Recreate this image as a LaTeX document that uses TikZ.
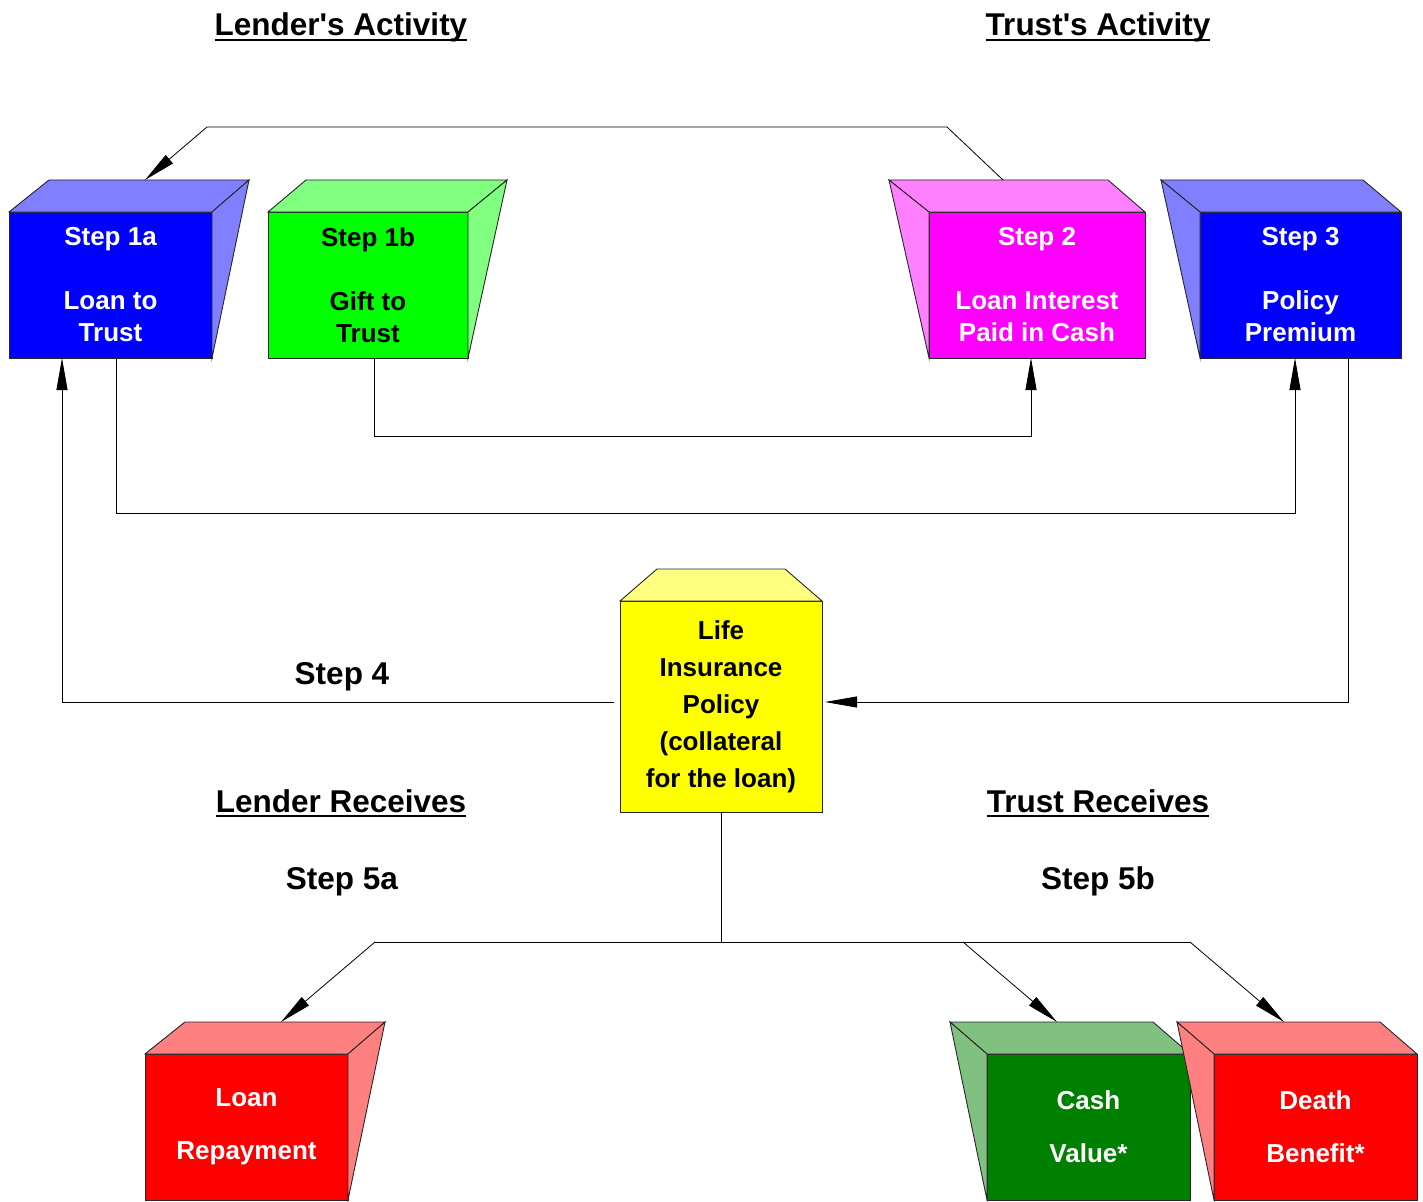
\documentclass[tikz,border=0pt]{standalone}
\usepackage{fontspec}
\setmainfont{Liberation Sans}[Ligatures=TeXOff]
\usetikzlibrary{arrows.meta}
\definecolor{blueF}{RGB}{0,0,255}
\definecolor{blueL}{RGB}{128,128,255}
\definecolor{greenF}{RGB}{0,255,0}
\definecolor{greenL}{RGB}{128,255,128}
\definecolor{magF}{RGB}{255,0,255}
\definecolor{magL}{RGB}{255,128,255}
\definecolor{yelF}{RGB}{255,255,0}
\definecolor{yelL}{RGB}{255,255,128}
\definecolor{redF}{RGB}{255,0,0}
\definecolor{redL}{RGB}{255,128,128}
\definecolor{dgreenF}{RGB}{0,128,0}
\definecolor{dgreenL}{RGB}{128,192,128}
\begin{document}
\begin{tikzpicture}[x=1pt,y=-1pt,
  edge/.style={draw=black!85, line width=0.9pt, line join=miter},
  frontbox/.style={edge, inner sep=0pt, outer sep=0pt, align=center, font=\bfseries},
  heading/.style={inner sep=0pt, anchor=base, font=\fontsize{31.5}{36}\selectfont\bfseries},
  uline/.style={line width=2.4pt},
  wire/.style={draw=black, line width=0.8pt},
  arr/.style={wire, -{Triangle[length=32pt,width=11pt]}}
]
\useasboundingbox (0,0) rectangle (1423,1201);
\fill[white] (0,0) rectangle (1423,1201);

% headings
\node[heading] (h1) at (341,36) {Lender's Activity};
\node[heading] (h2) at (1098,36) {Trust's Activity};
\node[heading] (h3) at (341,812) {Lender Receives};
\node[heading] (h4) at (1098,812) {Trust Receives};
\draw[uline] ([yshift=-4pt]h1.base west) -- ([yshift=-4pt]h1.base east);
\draw[uline] ([yshift=-4pt]h2.base west) -- ([yshift=-4pt]h2.base east);
\draw[uline] ([yshift=-4pt]h3.base west) -- ([yshift=-4pt]h3.base east);
\draw[uline] ([yshift=-4pt]h4.base west) -- ([yshift=-4pt]h4.base east);
\node[heading] (st4) at (342,684) {Step 4};
\node[heading] (st5a) at (342,889) {Step 5a};
\node[heading] (st5b) at (1098,889) {Step 5b};

% Step 1a
\node[frontbox, fill=blueF, text=white, minimum width=203pt, minimum height=146pt,
  font=\fontsize{26}{32}\selectfont\bfseries] (s1a) at (110.5,285) {Step 1a\\[32pt]Loan to\\Trust};
\path[edge, fill=blueL] (s1a.north west) -- ++(40,-32) -- ([shift={(37,-32)}]s1a.north east) -- (s1a.north east) -- cycle;
\path[edge, fill=blueL] (s1a.north east) -- ++(37,-32) -- (s1a.south east) -- cycle;

% Step 1b
\node[frontbox, fill=greenF, text=black, minimum width=200pt, minimum height=146pt,
  font=\fontsize{26}{32}\selectfont\bfseries] (s1b) at (368,285) {Step 1b\\[32pt]Gift to\\Trust};
\path[edge, fill=greenL] (s1b.north west) -- ++(38,-32) -- ([shift={(39,-32)}]s1b.north east) -- (s1b.north east) -- cycle;
\path[edge, fill=greenL] (s1b.north east) -- ++(39,-32) -- (s1b.south east) -- cycle;

% Step 2
\node[frontbox, fill=magF, text=white, minimum width=216pt, minimum height=146pt,
  font=\fontsize{26}{32}\selectfont\bfseries] (s2) at (1037,285) {Step 2\\[32pt]Loan Interest\\Paid in Cash};
\path[edge, fill=magL] (s2.north west) -- ++(-40,-32) -- ([shift={(-37,-32)}]s2.north east) -- (s2.north east) -- cycle;
\path[edge, fill=magL] (s2.north west) -- ++(-40,-32) -- (s2.south west) -- cycle;

% Step 3
\node[frontbox, fill=blueF, text=white, minimum width=201pt, minimum height=146pt,
  font=\fontsize{26}{32}\selectfont\bfseries] (s3) at (1300.5,285) {Step 3\\[32pt]Policy\\Premium};
\path[edge, fill=blueL] (s3.north west) -- ++(-39,-32) -- ([shift={(-38,-32)}]s3.north east) -- (s3.north east) -- cycle;
\path[edge, fill=blueL] (s3.north west) -- ++(-39,-32) -- (s3.south west) -- cycle;

% Life insurance policy
\node[frontbox, fill=yelF, text=black, minimum width=202pt, minimum height=211pt,
  font=\fontsize{26}{37}\selectfont\bfseries] (life) at (721,706.5) {Life\\Insurance\\Policy\\(collateral\\for the loan)};
\path[edge, fill=yelL] (life.north west) -- ++(37,-32) -- ([shift={(-37,-32)}]life.north east) -- (life.north east) -- cycle;

% Loan repayment
\node[frontbox, fill=redF, text=white, minimum width=203pt, minimum height=146pt,
  font=\fontsize{26}{53}\selectfont\bfseries] (lr) at (246.5,1127) {Loan\\Repayment};
\path[edge, fill=redL] (lr.north west) -- ++(40,-32) -- ([shift={(37,-32)}]lr.north east) -- (lr.north east) -- cycle;
\path[edge, fill=redL] (lr.north east) -- ++(37,-32) -- (lr.south east) -- cycle;

% Cash value
\node[frontbox, fill=dgreenF, text=white, minimum width=203pt, minimum height=146pt,
  font=\fontsize{26}{53}\selectfont\bfseries] (cv) at (1088.5,1127) {Cash\\Value*};
\path[edge, fill=dgreenL] (cv.north west) -- ++(-37,-32) -- ([shift={(-37,-32)}]cv.north east) -- (cv.north east) -- cycle;
\path[edge, fill=dgreenL] (cv.north west) -- ++(-37,-32) -- (cv.south west) -- cycle;

% Death benefit
\node[frontbox, fill=redF, text=white, minimum width=203pt, minimum height=146pt,
  font=\fontsize{26}{53}\selectfont\bfseries] (db) at (1315.5,1127) {Death\\Benefit*};
\path[edge, fill=redL] (db.north west) -- ++(-37,-32) -- ([shift={(-37,-32)}]db.north east) -- (db.north east) -- cycle;
\path[edge, fill=redL] (db.north west) -- ++(-37,-32) -- (db.south west) -- cycle;

% connector points on top faces
\coordinate (s2top) at (1003,180);
\coordinate (s1atop) at (145,180);
\coordinate (lrtop) at (281,1022);
\coordinate (cvtop) at (1057,1022);
\coordinate (dbtop) at (1284,1022);
\coordinate (jn) at (721,942);
\coordinate (jl) at (375,942);
\coordinate (jc) at (963,942);
\coordinate (jr) at (1190,942);

% connectors
\draw[arr] (s2top) -- (947,127) -- (207,127) -- (s1atop);
\draw[arr] (116,0 |- s1a.south) -- (116,513) -- (1295,513) -- (1295,0 |- s3.south);
\draw[arr] (374,0 |- s1b.south) -- (374,436) -- (1031,436) -- (1031,0 |- s2.south);
\draw[arr] (1348,0 |- s3.south) -- (1348,702) -- ([xshift=3pt]life.east |- 0,702);
\draw[arr] ([xshift=-6pt]life.west |- 0,702) -- (62,702) -- (62,0 |- s1a.south);
\draw[wire] (life.south) -- (jn);
\draw[wire] (jl) -- (jr);
\draw[arr] (jl) -- (lrtop);
\draw[arr] (jc) -- (cvtop);
\draw[arr] (jr) -- (dbtop);
\end{tikzpicture}
\end{document}
